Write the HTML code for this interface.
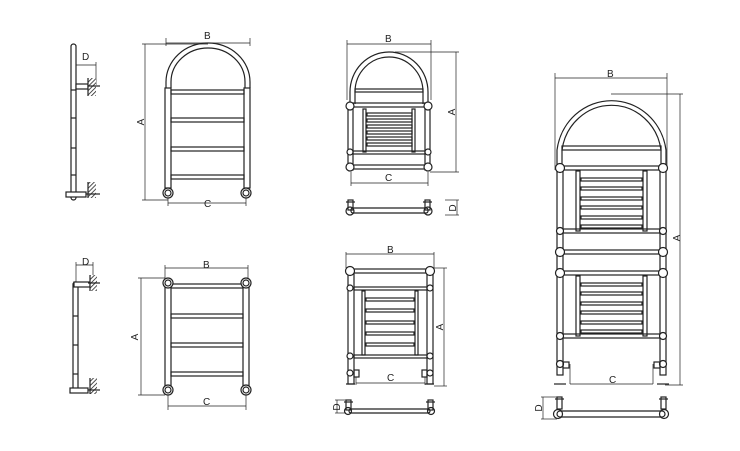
<!DOCTYPE html>
<html><head><meta charset="utf-8"><style>
html,body{margin:0;padding:0;background:#fff;}
svg{display:block}
text{font-family:"Liberation Sans",sans-serif;font-size:10px;fill:#222}
</style></head><body>
<svg width="740" height="451" viewBox="0 0 740 451" xmlns="http://www.w3.org/2000/svg">
<defs>
<pattern id="h" width="3" height="3" patternUnits="userSpaceOnUse" patternTransform="rotate(45)"><rect width="3" height="3" fill="#fff"/><line x1="0" y1="0" x2="0" y2="3" stroke="#222" stroke-width="1.6"/></pattern>
</defs>
<g fill="none" stroke="#222" stroke-width="1.2">

<!-- ===== Side view 1 ===== -->
<rect x="71" y="44" width="5" height="156" rx="2.5" fill="#fff"/>
<line x1="71" y1="90" x2="76" y2="90"/><line x1="71" y1="118" x2="76" y2="118"/><line x1="71" y1="148" x2="76" y2="148"/><line x1="71" y1="175" x2="76" y2="175"/>
<line x1="76" y1="65" x2="96" y2="65" stroke-width="0.7"/><line x1="76" y1="62" x2="76" y2="85" stroke-width="0.7"/><line x1="96" y1="62" x2="96" y2="85" stroke-width="0.7"/>
<rect x="76" y="84" width="12" height="5" fill="#fff"/>
<rect x="88" y="78" width="8" height="18" fill="url(#h)" stroke="none"/><line x1="88" y1="78" x2="88" y2="96"/><line x1="88" y1="86" x2="100" y2="86"/>
<rect x="66" y="192" width="20" height="5" fill="#fff"/>
<rect x="88" y="182" width="8" height="16" fill="url(#h)" stroke="none"/><line x1="88" y1="182" x2="88" y2="198"/><line x1="86" y1="194" x2="100" y2="194"/>

<!-- ===== Front 1 (arch) ===== -->
<line x1="166" y1="38" x2="166" y2="46" stroke-width="0.7"/><line x1="250" y1="38" x2="250" y2="46" stroke-width="0.7"/>
<line x1="166" y1="43" x2="250" y2="43" stroke-width="0.7"/>
<line x1="145" y1="44" x2="145" y2="200" stroke-width="0.7"/><line x1="142" y1="44" x2="208" y2="44" stroke-width="0.7"/><line x1="142" y1="200" x2="168" y2="200" stroke-width="0.7"/>
<path d="M166,88 L166,82 A42,39 0 0 1 250,82 L250,88"/>
<path d="M171,88 L171,82 A37,34 0 0 1 245,82 L245,88"/>
<rect x="165" y="88" width="6" height="100" fill="#fff"/><rect x="244" y="88" width="6" height="100" fill="#fff"/>
<rect x="171" y="90" width="73" height="4"/><rect x="171" y="118" width="73" height="4"/><rect x="171" y="147" width="73" height="4"/><rect x="171" y="175" width="73" height="4"/>
<circle cx="168" cy="193" r="5" fill="#fff"/><circle cx="168" cy="193" r="3"/><circle cx="246" cy="193" r="5" fill="#fff"/><circle cx="246" cy="193" r="3"/>
<line x1="168" y1="198" x2="168" y2="206" stroke-width="0.7"/><line x1="246" y1="198" x2="246" y2="206" stroke-width="0.7"/>
<line x1="168" y1="203" x2="246" y2="203" stroke-width="0.7"/>

<!-- ===== Side view 2 ===== -->
<rect x="73" y="282" width="5" height="108" rx="2.5" fill="#fff"/>
<line x1="73" y1="316" x2="78" y2="316"/><line x1="73" y1="345" x2="78" y2="345"/><line x1="73" y1="374" x2="78" y2="374"/>
<line x1="76" y1="265" x2="93" y2="265" stroke-width="0.7"/><line x1="76" y1="262" x2="76" y2="282" stroke-width="0.7"/><line x1="93" y1="262" x2="93" y2="280" stroke-width="0.7"/>
<rect x="74" y="282" width="16" height="5" fill="#fff"/>
<rect x="90" y="275" width="7" height="16" fill="url(#h)" stroke="none"/><line x1="90" y1="275" x2="90" y2="291"/><line x1="88" y1="283" x2="100" y2="283"/>
<rect x="70" y="388" width="18" height="5" fill="#fff"/>
<rect x="90" y="378" width="7" height="16" fill="url(#h)" stroke="none"/><line x1="90" y1="378" x2="90" y2="394"/><line x1="88" y1="390" x2="100" y2="390"/>

<!-- ===== Front 2 ===== -->
<line x1="165" y1="265" x2="165" y2="278" stroke-width="0.7"/><line x1="248" y1="265" x2="248" y2="278" stroke-width="0.7"/>
<line x1="165" y1="268" x2="248" y2="268" stroke-width="0.7"/>
<line x1="141" y1="278" x2="141" y2="395" stroke-width="0.7"/><line x1="138" y1="278" x2="165" y2="278" stroke-width="0.7"/><line x1="138" y1="395" x2="165" y2="395" stroke-width="0.7"/>
<rect x="165" y="286" width="6" height="100" fill="#fff"/><rect x="243" y="286" width="6" height="100" fill="#fff"/>
<rect x="171" y="284" width="72" height="4"/><rect x="171" y="314" width="72" height="4"/><rect x="171" y="343" width="72" height="4"/><rect x="171" y="372" width="72" height="4"/>
<circle cx="168" cy="283" r="5" fill="#fff"/><circle cx="168" cy="283" r="3"/><circle cx="246" cy="283" r="5" fill="#fff"/><circle cx="246" cy="283" r="3"/>
<circle cx="168" cy="390" r="5" fill="#fff"/><circle cx="168" cy="390" r="3"/><circle cx="246" cy="390" r="5" fill="#fff"/><circle cx="246" cy="390" r="3"/>
<line x1="168" y1="395" x2="168" y2="410" stroke-width="0.7"/><line x1="246" y1="395" x2="246" y2="410" stroke-width="0.7"/>
<line x1="168" y1="406" x2="246" y2="406" stroke-width="0.7"/>

<!-- ===== Middle top ===== -->
<line x1="347" y1="40" x2="347" y2="100" stroke-width="0.7"/><line x1="431" y1="40" x2="431" y2="100" stroke-width="0.7"/>
<line x1="347" y1="44" x2="431" y2="44" stroke-width="0.7"/>
<line x1="456" y1="52" x2="456" y2="172" stroke-width="0.7"/><line x1="395" y1="52" x2="459" y2="52" stroke-width="0.7"/><line x1="430" y1="172" x2="459" y2="172" stroke-width="0.7"/>
<path d="M350,104 L350,92 A39,40 0 0 1 428,92 L428,104"/>
<path d="M355,104 L355,92 A34,35 0 0 1 423,92 L423,104"/>
<rect x="355" y="89" width="68" height="3"/>
<rect x="348" y="104" width="5" height="66" fill="#fff"/><rect x="425" y="104" width="5" height="66" fill="#fff"/>
<rect x="353" y="103" width="72" height="4"/>
<rect x="363" y="109" width="3" height="43"/><rect x="412" y="109" width="3" height="43"/>
<rect x="367" y="113" width="45" height="3"/><rect x="367" y="119" width="45" height="3"/><rect x="367" y="125" width="45" height="3"/><rect x="367" y="131" width="45" height="3"/><rect x="367" y="137" width="45" height="3"/><rect x="367" y="143" width="45" height="3"/>
<rect x="353" y="151" width="72" height="3"/><rect x="353" y="165" width="72" height="4"/>
<circle cx="350" cy="106" r="4" fill="#fff"/><circle cx="428" cy="106" r="4" fill="#fff"/>
<circle cx="350" cy="152" r="3" fill="#fff"/><circle cx="428" cy="152" r="3" fill="#fff"/>
<circle cx="350" cy="167" r="4" fill="#fff"/><circle cx="428" cy="167" r="4" fill="#fff"/>
<line x1="351" y1="172" x2="351" y2="186" stroke-width="0.7"/><line x1="428" y1="172" x2="428" y2="186" stroke-width="0.7"/>
<line x1="351" y1="183" x2="428" y2="183" stroke-width="0.7"/>
<rect x="348" y="200" width="5" height="10"/><rect x="425" y="200" width="5" height="10"/>
<line x1="346" y1="202" x2="355" y2="202"/><line x1="423" y1="202" x2="432" y2="202"/>
<rect x="351" y="208" width="77" height="5" rx="2"/>
<circle cx="350" cy="211" r="4"/><circle cx="428" cy="211" r="4"/>
<line x1="445" y1="200" x2="459" y2="200" stroke-width="0.7"/><line x1="445" y1="215" x2="459" y2="215" stroke-width="0.7"/><line x1="457" y1="200" x2="457" y2="215" stroke-width="0.7"/>

<!-- ===== Middle bottom ===== -->
<line x1="346" y1="252" x2="346" y2="268" stroke-width="0.7"/><line x1="434" y1="252" x2="434" y2="268" stroke-width="0.7"/>
<line x1="346" y1="254" x2="434" y2="254" stroke-width="0.7"/>
<line x1="444" y1="268" x2="444" y2="386" stroke-width="0.7"/><line x1="434" y1="268" x2="447" y2="268" stroke-width="0.7"/><line x1="434" y1="386" x2="447" y2="386" stroke-width="0.7"/>
<rect x="348" y="272" width="6" height="112" fill="#fff"/><rect x="427" y="272" width="6" height="112" fill="#fff"/>
<rect x="354" y="269" width="73" height="4"/><rect x="354" y="287" width="73" height="3"/>
<rect x="362" y="291" width="3" height="64"/><rect x="415" y="291" width="3" height="64"/>
<rect x="366" y="298" width="48" height="3"/><rect x="366" y="309" width="48" height="3"/><rect x="366" y="321" width="48" height="3"/><rect x="366" y="332" width="48" height="3"/><rect x="366" y="343" width="48" height="3"/>
<rect x="354" y="355" width="73" height="3"/>
<circle cx="350" cy="271" r="4.5" fill="#fff"/><circle cx="430" cy="271" r="4.5" fill="#fff"/>
<circle cx="350" cy="288" r="3" fill="#fff"/><circle cx="430" cy="288" r="3" fill="#fff"/>
<circle cx="350" cy="356" r="3" fill="#fff"/><circle cx="430" cy="356" r="3" fill="#fff"/>
<circle cx="350" cy="373" r="3" fill="#fff"/><circle cx="430" cy="373" r="3" fill="#fff"/>
<rect x="354" y="370" width="5" height="7"/><rect x="422" y="370" width="5" height="7"/>
<line x1="346" y1="384" x2="355" y2="384"/><line x1="425" y1="384" x2="434" y2="384"/>
<line x1="356" y1="377" x2="356" y2="385" stroke-width="0.7"/><line x1="425" y1="377" x2="425" y2="385" stroke-width="0.7"/>
<line x1="356" y1="383" x2="425" y2="383" stroke-width="0.7"/>
<rect x="346" y="400" width="5" height="10"/><rect x="428" y="400" width="5" height="10"/>
<line x1="344" y1="402" x2="353" y2="402"/><line x1="426" y1="402" x2="435" y2="402"/>
<rect x="349" y="409" width="81" height="4" rx="2"/>
<circle cx="348" cy="411" r="3.5"/><circle cx="431" cy="411" r="3.5"/>
<line x1="335" y1="400" x2="346" y2="400" stroke-width="0.7"/><line x1="335" y1="413" x2="346" y2="413" stroke-width="0.7"/><line x1="337" y1="400" x2="337" y2="413" stroke-width="0.7"/>

<!-- ===== Right tall ===== -->
<line x1="555" y1="73" x2="555" y2="170" stroke-width="0.7"/><line x1="667" y1="73" x2="667" y2="170" stroke-width="0.7"/>
<line x1="555" y1="78" x2="667" y2="78" stroke-width="0.7"/>
<line x1="680" y1="94" x2="680" y2="385" stroke-width="0.7"/><line x1="611" y1="94" x2="683" y2="94" stroke-width="0.7"/><line x1="665" y1="385" x2="683" y2="385" stroke-width="0.7"/>
<path d="M557,168 L557,150 A55,57 0 0 1 666,150 L666,168"/>
<path d="M562,168 L562,150 A50,52 0 0 1 661,150 L661,168"/>
<rect x="562" y="146" width="99" height="4"/>
<rect x="557" y="170" width="6" height="205" fill="#fff"/><rect x="660" y="170" width="6" height="205" fill="#fff"/>
<rect x="563" y="166" width="97" height="4"/>
<rect x="576" y="171" width="4" height="60"/><rect x="643" y="171" width="4" height="60"/>
<rect x="581" y="178" width="61" height="3"/><rect x="581" y="187" width="61" height="3"/><rect x="581" y="197" width="61" height="3"/><rect x="581" y="206" width="61" height="3"/><rect x="581" y="216" width="61" height="3"/><rect x="581" y="225" width="61" height="3"/>
<rect x="563" y="229" width="97" height="4"/><rect x="563" y="250" width="97" height="4"/><rect x="563" y="271" width="97" height="4"/>
<rect x="576" y="276" width="4" height="60"/><rect x="643" y="276" width="4" height="60"/>
<rect x="581" y="283" width="61" height="3"/><rect x="581" y="292" width="61" height="3"/><rect x="581" y="302" width="61" height="3"/><rect x="581" y="311" width="61" height="3"/><rect x="581" y="321" width="61" height="3"/><rect x="581" y="330" width="61" height="3"/>
<rect x="563" y="334" width="97" height="4"/>
<circle cx="560" cy="168" r="4.5" fill="#fff"/><circle cx="663" cy="168" r="4.5" fill="#fff"/>
<circle cx="560" cy="231" r="3.5" fill="#fff"/><circle cx="663" cy="231" r="3.5" fill="#fff"/>
<circle cx="560" cy="252" r="4.5" fill="#fff"/><circle cx="663" cy="252" r="4.5" fill="#fff"/>
<circle cx="560" cy="273" r="4.5" fill="#fff"/><circle cx="663" cy="273" r="4.5" fill="#fff"/>
<circle cx="560" cy="336" r="3.5" fill="#fff"/><circle cx="663" cy="336" r="3.5" fill="#fff"/>
<circle cx="560" cy="364" r="3.5" fill="#fff"/><circle cx="663" cy="364" r="3.5" fill="#fff"/>
<rect x="563" y="362" width="6" height="6"/><rect x="654" y="362" width="6" height="6"/>
<line x1="554" y1="384" x2="566" y2="384"/><line x1="657" y1="384" x2="669" y2="384"/>
<line x1="570" y1="364" x2="570" y2="384" stroke-width="0.7"/><line x1="653" y1="364" x2="653" y2="384" stroke-width="0.7"/>
<line x1="570" y1="384" x2="653" y2="384" stroke-width="0.7"/>
<rect x="557" y="397" width="5" height="12"/><rect x="661" y="397" width="5" height="12"/>
<line x1="555" y1="399" x2="564" y2="399"/><line x1="659" y1="399" x2="668" y2="399"/>
<rect x="557" y="411" width="108" height="6" rx="3"/>
<circle cx="558" cy="414" r="4.5"/><circle cx="664" cy="414" r="4.5"/>
<line x1="541" y1="397" x2="557" y2="397" stroke-width="0.7"/><line x1="541" y1="419" x2="557" y2="419" stroke-width="0.7"/><line x1="543" y1="397" x2="543" y2="419" stroke-width="0.7"/>
</g>

<!-- Labels -->
<text x="82" y="60">D</text>
<text x="204" y="39">B</text>
<text x="204" y="207">C</text>
<text x="144" y="122" transform="rotate(-90 144 122)" text-anchor="middle">A</text>
<text x="82" y="265">D</text>
<text x="203" y="268">B</text>
<text x="203" y="405">C</text>
<text x="138" y="337" transform="rotate(-90 138 337)" text-anchor="middle">A</text>
<text x="385" y="42">B</text>
<text x="385" y="181">C</text>
<text x="455" y="112" transform="rotate(-90 455 112)" text-anchor="middle">A</text>
<text x="456" y="208" transform="rotate(-90 456 208)" text-anchor="middle">D</text>
<text x="387" y="253">B</text>
<text x="387" y="381">C</text>
<text x="443" y="327" transform="rotate(-90 443 327)" text-anchor="middle">A</text>
<text x="340" y="407" transform="rotate(-90 340 407)" text-anchor="middle">D</text>
<text x="607" y="77">B</text>
<text x="609" y="383">C</text>
<text x="680" y="238" transform="rotate(-90 680 238)" text-anchor="middle">A</text>
<text x="542" y="408" transform="rotate(-90 542 408)" text-anchor="middle">D</text>
</svg>
</body></html>
